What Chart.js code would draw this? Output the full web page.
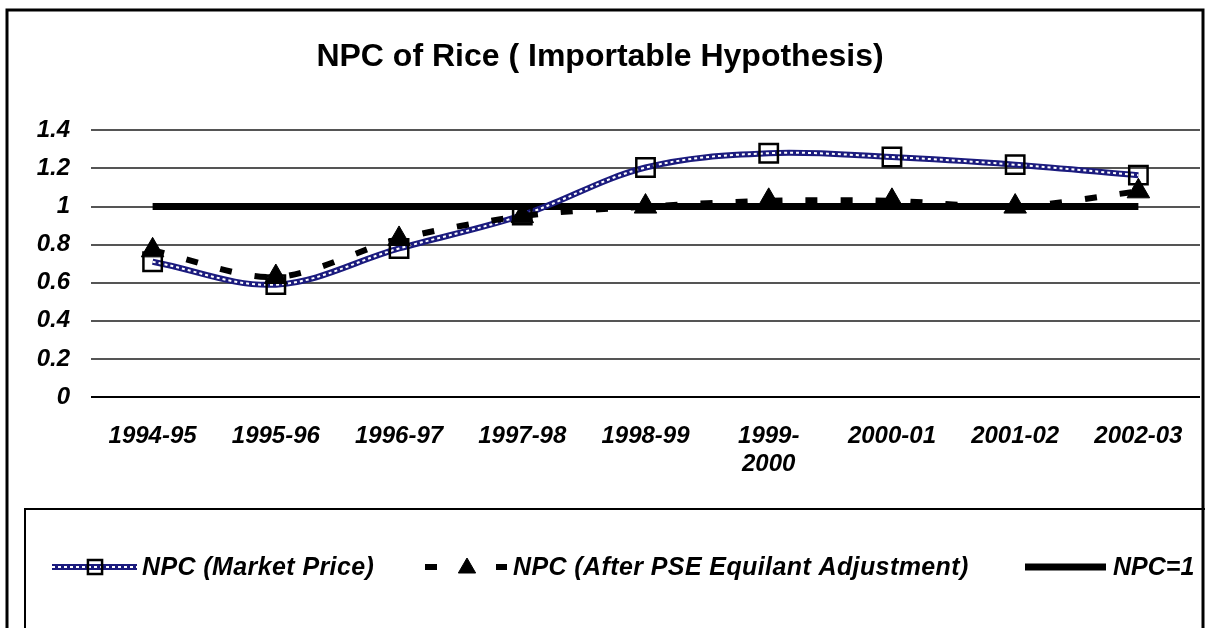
<!DOCTYPE html>
<html>
<head>
<meta charset="utf-8">
<title>NPC of Rice (Importable Hypothesis)</title>
<script src="https://cdn.jsdelivr.net/npm/chart.js@4.4.1/dist/chart.umd.min.js"></script>
<style>
  html, body { margin: 0; padding: 0; background: #fff; }
  #wrap { position: relative; width: 1205px; height: 628px; }
</style>
</head>
<body>
<div id="wrap"><canvas id="chart-npc"></canvas></div>
<script>
// ============================================================
// NPC of Rice — market price vs PSE-adjusted, with NPC=1 line
// ============================================================

// ── Data ───────────────────────────────────────────────────
const YEARS      = ['1994-95', '1995-96', '1996-97', '1997-98', '1998-99', ['1999-', '2000'], '2000-01', '2001-02', '2002-03'];
const NPC_MARKET = [0.71, 0.59, 0.78, 0.955, 1.205, 1.28, 1.26, 1.22, 1.165];
const NPC_PSE    = [0.77, 0.63, 0.83, 0.95, 1.0, 1.03, 1.03, 1.0, 1.08];
const NPC_ONE    = [1, 1, 1, 1, 1, 1, 1, 1, 1];
const Y_TICKS    = [0, 0.2, 0.4, 0.6, 0.8, 1, 1.2, 1.4];

const LABEL_MARKET = 'NPC (Market Price)';
const LABEL_PSE    = 'NPC (After PSE Equilant Adjustment)';
const LABEL_ONE    = 'NPC=1';

const NAVY = '#1b1b7e';
const FONT = "'Liberation Sans', Arial, sans-serif";

Chart.defaults.font.family = FONT;
Chart.defaults.color = '#000';

// ── Plugins: frame + hand drawn legend ─────────────────────

const frame = {
  id: 'frame',
  beforeDraw(chart) {
    const { ctx, width, height } = chart;
    ctx.save();
    ctx.fillStyle = '#fff';
    ctx.fillRect(0, 0, width, height);
    ctx.strokeStyle = '#000';
    ctx.lineWidth = 3;
    ctx.beginPath();
    ctx.moveTo(7, height + 2);
    ctx.lineTo(7, 10);
    ctx.lineTo(1203, 10);
    ctx.lineTo(1203, height + 2);
    ctx.stroke();
    ctx.restore();
  },
};

function sampleLine(ctx, x1, x2, y, color, width, dash) {
  ctx.save();
  ctx.strokeStyle = color;
  ctx.lineWidth = width;
  ctx.setLineDash(dash || []);
  ctx.beginPath();
  ctx.moveTo(x1, y);
  ctx.lineTo(x2, y);
  ctx.stroke();
  ctx.restore();
}

function sampleMarker(ctx, style, radius, x, y, fill, stroke, bw) {
  ctx.save();
  ctx.fillStyle = fill;
  ctx.strokeStyle = stroke;
  ctx.lineWidth = bw;
  Chart.helpers.drawPoint(ctx, { pointStyle: style, radius, rotation: 0, borderWidth: bw }, x, y);
  ctx.restore();
}

function sampleText(ctx, text, x, y, spacing) {
  ctx.save();
  ctx.font = `italic bold 25px ${FONT}`;
  ctx.fillStyle = '#000';
  ctx.textBaseline = 'middle';
  ctx.letterSpacing = spacing || '0px';
  ctx.fillText(text, x, y);
  ctx.restore();
}

const legendBox = {
  id: 'legendBox',
  afterDraw(chart) {
    const { ctx } = chart;
    const y = 567;
    ctx.save();
    ctx.strokeStyle = '#000';
    ctx.lineWidth = 2;
    ctx.strokeRect(25, 509, 1200, 140);
    ctx.restore();

    // market price
    sampleLine(ctx, 52, 137, y, NAVY, 6);
    sampleLine(ctx, 52, 137, y, '#fff', 2, [3, 3]);
    sampleMarker(ctx, 'rect', 10, 95, y, 'rgba(0,0,0,0)', '#000', 2.5);
    sampleText(ctx, LABEL_MARKET, 142, y + 1, '0.4px');

    // after PSE
    sampleLine(ctx, 425, 437, y, '#000', 6);
    sampleMarker(ctx, 'triangle', 10, 467, y + 1, '#000', '#000', 1);
    sampleLine(ctx, 496, 507, y, '#000', 6);
    sampleText(ctx, LABEL_PSE, 513, y + 1, '0.4px');

    // NPC = 1
    sampleLine(ctx, 1025, 1106, y, '#000', 7);
    sampleText(ctx, LABEL_ONE, 1113, y + 1);
  },
};

// ── Chart ──────────────────────────────────────────────────

const canvas = document.getElementById('chart-npc');

new Chart(canvas, {
  type: 'line',
  data: {
    labels: YEARS,
    datasets: [
      {
        label:        LABEL_ONE,
        data:         NPC_ONE,
        borderColor:  '#000',
        borderWidth:  7,
        pointRadius:  0,
        order:        5,
      },
      {
        label:        LABEL_MARKET,
        data:         NPC_MARKET,
        borderColor:  NAVY,
        borderWidth:  6,
        pointRadius:  0,
        tension:      0.35,
        order:        4,
      },
      {
        label:        'market-pattern',
        data:         NPC_MARKET,
        borderColor:  '#fff',
        borderWidth:  2,
        borderDash:   [3, 3],
        pointRadius:  0,
        tension:      0.35,
        order:        3,
      },
      {
        label:           'market-points',
        data:            NPC_MARKET,
        showLine:        false,
        pointStyle:      'rect',
        pointRadius:     13,
        pointBorderWidth: 2.5,
        pointBorderColor: '#000',
        pointBackgroundColor: 'rgba(0,0,0,0)',
        order:           2,
      },
      {
        label:           LABEL_PSE,
        data:            NPC_PSE,
        borderColor:     '#000',
        borderWidth:     6,
        borderDash:      [12, 23],
        tension:         0.3,
        pointStyle:      'triangle',
        pointRadius:     13,
        pointBorderWidth: 1,
        pointBorderColor: '#000',
        pointBackgroundColor: '#000',
        order:           1,
      },
    ],
  },
  options: {
    responsive: true,
    maintainAspectRatio: false,
    animation: false,
    // autoPadding would reserve marker room on the right; offset axis already has it
    layout: { autoPadding: false, padding: { top: 0, left: 0, right: 5, bottom: 131 } },
    plugins: {
      legend:  { display: false },
      tooltip: { enabled: false },
      title: {
        display: true,
        text: 'NPC of Rice ( Importable Hypothesis)',
        font: { size: 32, weight: 'bold', lineHeight: 1.2 },
        color: '#000',
        padding: { top: 38, bottom: 54 },
      },
    },
    scales: {
      x: {
        offset: true,
        grid:   { display: false, drawTicks: true, tickLength: 22 },
        border: { display: false },
        ticks: {
          autoSkip: false,
          maxRotation: 0,
          padding: 3,
          color: '#000',
          font: { size: 24, weight: 'bold', style: 'italic', lineHeight: 1.17 },
        },
        afterFit: s => { s.height = 100; },
      },
      y: {
        min: 0,
        max: 1.4,
        grid: {
          drawTicks: false,
          lineWidth: 2,
          color: c => (c.tick && c.tick.value === 0 ? '#000' : '#555'),
        },
        border: { display: false },
        afterBuildTicks: s => { s.ticks = Y_TICKS.map(v => ({ value: v })); },
        ticks: {
          padding: 21,
          color: '#000',
          font: { size: 24, weight: 'bold', style: 'italic' },
          callback: v => String(+v.toFixed(1)),
        },
        afterFit: s => { s.width = 91; },
      },
    },
  },
  plugins: [frame, legendBox],
});
</script>
</body>
</html>
